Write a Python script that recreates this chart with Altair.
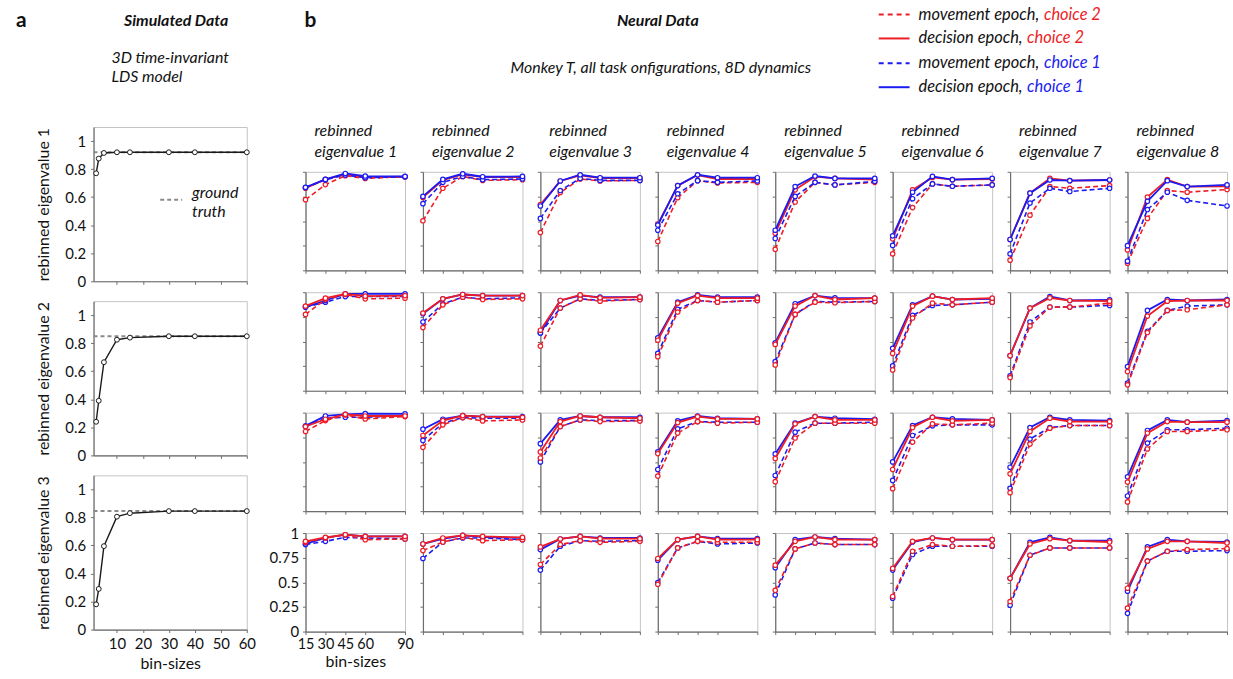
import altair as alt
import pandas as pd

FONT = "Lato"
RED = "#ee1c25"
BLUE = "#1b1bf2"
AXIS_DARK = "#6e6e6e"
FRAME = "#c4c4c4"

# ---------------- panel a : simulated data ----------------
BIN_A = [2, 3, 5, 10, 15, 30, 40, 60]
SIM_EIG_1 = [0.77, 0.875, 0.915, 0.92, 0.92, 0.92, 0.92, 0.92]
SIM_EIG_2 = [0.24, 0.39, 0.665, 0.825, 0.84, 0.85, 0.85, 0.85]
SIM_EIG_3 = [0.18, 0.29, 0.595, 0.805, 0.83, 0.845, 0.845, 0.845]
GROUND_TRUTH = [0.92, 0.85, 0.845]
SIM_TICKS_X = [10, 20, 30, 40, 50, 60]
SIM_TICKS_Y = [0, 0.2, 0.4, 0.6, 0.8, 1]

# ---------------- panel b : neural data (rows x eigenvalue columns x bins) ----------------
BIN_B = [15, 30, 45, 60, 90]
NEU_TICKS_Y = [0, 0.25, 0.5, 0.75, 1]

MOVE_C2 = [  # movement epoch, choice 2 (red dashed)
    [[0.717, 0.87, 0.96, 0.933, 0.95], [0.503, 0.833, 0.953, 0.913, 0.92], [0.383, 0.79, 0.927, 0.907, 0.913], [0.293, 0.737, 0.91, 0.887, 0.893],
     [0.213, 0.693, 0.893, 0.867, 0.893], [0.167, 0.637, 0.877, 0.853, 0.867], [0.103, 0.56, 0.85, 0.833, 0.86], [0.073, 0.527, 0.81, 0.793, 0.82]],
    [[0.775, 0.926, 0.977, 0.933, 0.94], [0.641, 0.872, 0.95, 0.926, 0.933], [0.453, 0.839, 0.933, 0.909, 0.926], [0.346, 0.799, 0.916, 0.899, 0.916],
     [0.262, 0.775, 0.899, 0.893, 0.906], [0.211, 0.738, 0.889, 0.872, 0.899], [0.134, 0.658, 0.849, 0.849, 0.889], [0.06, 0.591, 0.815, 0.822, 0.872]],
    [[0.809, 0.919, 0.977, 0.936, 0.96], [0.648, 0.876, 0.95, 0.916, 0.926], [0.54, 0.859, 0.926, 0.909, 0.916], [0.356, 0.792, 0.909, 0.893, 0.903],
     [0.299, 0.742, 0.893, 0.893, 0.893], [0.228, 0.701, 0.886, 0.876, 0.893], [0.188, 0.681, 0.842, 0.869, 0.869], [0.094, 0.631, 0.809, 0.809, 0.826]],
    [[0.906, 0.95, 0.983, 0.933, 0.94], [0.822, 0.909, 0.956, 0.923, 0.933], [0.681, 0.883, 0.923, 0.906, 0.916], [0.48, 0.849, 0.916, 0.906, 0.906],
     [0.419, 0.839, 0.899, 0.883, 0.883], [0.356, 0.815, 0.883, 0.866, 0.872], [0.305, 0.775, 0.849, 0.849, 0.849], [0.238, 0.715, 0.815, 0.832, 0.842]],
]
DEC_C2 = [  # decision epoch, choice 2 (red solid)
    [[0.833, 0.923, 0.973, 0.947, 0.95], [0.74, 0.915, 0.975, 0.945, 0.945], [0.667, 0.907, 0.963, 0.937, 0.937], [0.467, 0.86, 0.967, 0.927, 0.927],
     [0.377, 0.817, 0.95, 0.933, 0.92], [0.32, 0.817, 0.943, 0.92, 0.927], [0.313, 0.783, 0.933, 0.91, 0.917], [0.207, 0.743, 0.92, 0.85, 0.853]],
    [[0.859, 0.94, 0.983, 0.96, 0.966], [0.789, 0.933, 0.977, 0.966, 0.966], [0.614, 0.916, 0.973, 0.943, 0.95], [0.513, 0.889, 0.966, 0.94, 0.94],
     [0.47, 0.859, 0.966, 0.926, 0.94], [0.379, 0.859, 0.96, 0.926, 0.94], [0.356, 0.839, 0.943, 0.916, 0.909], [0.195, 0.758, 0.909, 0.916, 0.916]],
    [[0.859, 0.933, 0.983, 0.966, 0.966], [0.768, 0.919, 0.97, 0.96, 0.953], [0.601, 0.909, 0.966, 0.953, 0.943], [0.584, 0.899, 0.96, 0.936, 0.936],
     [0.534, 0.886, 0.96, 0.926, 0.926], [0.423, 0.849, 0.953, 0.916, 0.926], [0.379, 0.809, 0.943, 0.909, 0.909], [0.295, 0.792, 0.909, 0.903, 0.903]],
    [[0.916, 0.956, 0.983, 0.966, 0.966], [0.889, 0.95, 0.977, 0.966, 0.956], [0.859, 0.94, 0.966, 0.943, 0.943], [0.742, 0.933, 0.966, 0.933, 0.933],
     [0.674, 0.916, 0.96, 0.933, 0.933], [0.641, 0.916, 0.95, 0.933, 0.933], [0.54, 0.889, 0.943, 0.923, 0.909], [0.44, 0.839, 0.916, 0.916, 0.899]],
]
MOVE_C1 = [  # movement epoch, choice 1 (blue dashed)
    [[0.84, 0.92, 0.967, 0.94, 0.95], [0.677, 0.893, 0.953, 0.92, 0.927], [0.527, 0.81, 0.933, 0.913, 0.913], [0.407, 0.777, 0.91, 0.893, 0.907],
     [0.323, 0.75, 0.893, 0.867, 0.903], [0.253, 0.727, 0.877, 0.853, 0.867], [0.167, 0.683, 0.833, 0.8, 0.833], [0.093, 0.617, 0.793, 0.71, 0.653]],
    [[0.849, 0.899, 0.956, 0.956, 0.956], [0.698, 0.883, 0.95, 0.933, 0.943], [0.587, 0.839, 0.933, 0.916, 0.926], [0.379, 0.826, 0.916, 0.899, 0.916],
     [0.295, 0.775, 0.906, 0.899, 0.906], [0.252, 0.765, 0.866, 0.872, 0.899], [0.151, 0.698, 0.849, 0.849, 0.866], [0.077, 0.604, 0.815, 0.859, 0.872]],
    [[0.859, 0.943, 0.953, 0.953, 0.97], [0.718, 0.893, 0.95, 0.943, 0.943], [0.5, 0.859, 0.926, 0.919, 0.919], [0.423, 0.836, 0.909, 0.903, 0.903],
     [0.362, 0.802, 0.893, 0.893, 0.903], [0.312, 0.768, 0.866, 0.876, 0.876], [0.232, 0.732, 0.849, 0.869, 0.869], [0.154, 0.691, 0.826, 0.826, 0.842]],
    [[0.883, 0.916, 0.956, 0.95, 0.94], [0.742, 0.909, 0.95, 0.95, 0.933], [0.624, 0.866, 0.923, 0.916, 0.923], [0.497, 0.849, 0.916, 0.889, 0.899],
     [0.372, 0.839, 0.899, 0.883, 0.883], [0.339, 0.782, 0.866, 0.866, 0.866], [0.268, 0.775, 0.849, 0.849, 0.849], [0.185, 0.715, 0.815, 0.815, 0.822]],
]
DEC_C1 = [  # decision epoch, choice 1 (blue solid)
    [[0.843, 0.923, 0.983, 0.957, 0.953], [0.75, 0.923, 0.98, 0.95, 0.953], [0.653, 0.907, 0.97, 0.94, 0.94], [0.46, 0.86, 0.97, 0.94, 0.94],
     [0.407, 0.85, 0.957, 0.933, 0.933], [0.35, 0.793, 0.953, 0.92, 0.933], [0.313, 0.783, 0.917, 0.91, 0.917], [0.25, 0.7, 0.91, 0.85, 0.867]],
    [[0.849, 0.916, 0.983, 0.983, 0.983], [0.782, 0.933, 0.977, 0.966, 0.966], [0.587, 0.916, 0.966, 0.95, 0.95], [0.537, 0.899, 0.973, 0.95, 0.95],
     [0.487, 0.883, 0.966, 0.943, 0.94], [0.43, 0.872, 0.96, 0.926, 0.933], [0.356, 0.839, 0.956, 0.916, 0.923], [0.245, 0.815, 0.926, 0.916, 0.926]],
    [[0.866, 0.966, 0.983, 0.99, 0.987], [0.832, 0.933, 0.97, 0.96, 0.96], [0.685, 0.926, 0.966, 0.953, 0.953], [0.601, 0.916, 0.966, 0.943, 0.936],
     [0.581, 0.893, 0.96, 0.943, 0.933], [0.5, 0.869, 0.953, 0.936, 0.926], [0.446, 0.849, 0.953, 0.926, 0.919], [0.349, 0.819, 0.926, 0.903, 0.919]],
    [[0.889, 0.95, 0.983, 0.966, 0.966], [0.889, 0.94, 0.977, 0.96, 0.95], [0.832, 0.94, 0.966, 0.95, 0.95], [0.725, 0.933, 0.966, 0.943, 0.943],
     [0.648, 0.933, 0.96, 0.943, 0.933], [0.624, 0.909, 0.95, 0.933, 0.933], [0.54, 0.906, 0.956, 0.923, 0.923], [0.41, 0.859, 0.933, 0.916, 0.909]],
]

NO_STROKE = alt.ViewBackground(stroke="transparent")
ONE = pd.DataFrame({"d": [0]})
TXT = 16
PLAIN = "'' + datum.value"


def note(text, x, y, size=TXT, weight="normal", style="italic", color="#111", align="left", baseline="alphabetic"):
    return alt.Chart(ONE).mark_text(
        text=text, font=FONT, fontSize=size, fontWeight=weight, fontStyle=style,
        color=color, align=align, baseline=baseline,
    ).encode(x=alt.value(x), y=alt.value(y))


def seg(x1, x2, y, color, dash=None, width=2):
    kw = dict(color=color, strokeWidth=width)
    if dash:
        kw["strokeDash"] = dash
    return alt.Chart(ONE).mark_rule(**kw).encode(x=alt.value(x1), x2=alt.value(x2), y=alt.value(y))


# ---------------- panel a charts ----------------
def sim_chart(i, vals, truth, show_x):
    df = pd.DataFrame({"bin": BIN_A, "val": vals})
    tdf = pd.DataFrame({"bin": [1], "bin2": [60], "val": [truth]})
    xenc = alt.X("bin:Q", scale=alt.Scale(domain=[1, 60], nice=False, zero=False),
                 axis=alt.Axis(values=SIM_TICKS_X, labels=show_x, title="bin-sizes" if show_x else None,
                               labelExpr=PLAIN, labelFlush=False, labelOverlap=False, tickSize=3,
                               labelPadding=4, titlePadding=4))
    yenc = alt.Y("val:Q", scale=alt.Scale(domain=[0, 1.1], nice=False),
                 axis=alt.Axis(values=SIM_TICKS_Y, labelExpr=PLAIN, title=f"rebinned eigenvalue {i}",
                               labelFlush=False, tickSize=3, labelPadding=5, titlePadding=13))
    truth_rule = alt.Chart(tdf).mark_rule(color="#8a8a8a", strokeDash=[4, 3], strokeWidth=2).encode(
        x=xenc, x2="bin2:Q", y=yenc)
    line = alt.Chart(df).mark_line(
        color="#1a1a1a", strokeWidth=1.4,
        point=alt.OverlayMarkDef(filled=True, fill="white", stroke="#1a1a1a", strokeWidth=1, size=24),
    ).encode(x=xenc, y=yenc)
    layers = [truth_rule, line]
    if i == 1:
        layers += [seg(67, 89, 73, "#8a8a8a", [4, 3], 2),
                   note("ground", 99, 71),
                   note("truth", 99, 90)]
    return alt.layer(*layers).properties(width=154, height=155)


panel_a = alt.vconcat(
    sim_chart(1, SIM_EIG_1, GROUND_TRUTH[0], False),
    sim_chart(2, SIM_EIG_2, GROUND_TRUTH[1], False),
    sim_chart(3, SIM_EIG_3, GROUND_TRUTH[2], True),
    spacing=20, bounds="flush",
).resolve_scale(x="independent", y="independent")

# ---------------- panel b charts ----------------
SERIES = {
    "md2": (MOVE_C2, RED, [5, 3]),
    "dd2": (DEC_C2, RED, None),
    "md1": (MOVE_C1, BLUE, [5, 3]),
    "dd1": (DEC_C1, BLUE, None),
}


def col_title(c):
    return alt.layer(
        note("rebinned", 9, 4, baseline="middle"),
        note(f"eigenvalue {c + 1}", 9, 25, baseline="middle"),
    ).properties(width=100, height=23, view=NO_STROKE)


def neu_chart(r, c):
    show = (r == 3 and c == 0)
    xenc = alt.X("bin:Q", scale=alt.Scale(domain=[15, 90], nice=False, zero=False),
                 axis=alt.Axis(values=BIN_B, labels=show, title="bin-sizes" if show else None,
                               labelExpr=PLAIN, labelFontSize=14.5, labelFlush=False, labelOverlap=False,
                               tickSize=3, labelPadding=3, titlePadding=3))
    yenc = alt.Y("val:Q", scale=alt.Scale(domain=[0, 1], nice=False),
                 axis=alt.Axis(values=NEU_TICKS_Y, labels=show, labelExpr=PLAIN, title=None,
                               labelFlush=False, labelOverlap=False, tickSize=3, labelPadding=4))
    order = ["md2", "dd2", "md1", "dd1"] if r == 0 else ["md1", "dd1", "md2", "dd2"]
    layers = []
    for key in order:
        data, color, dash = SERIES[key]
        df = pd.DataFrame({"bin": BIN_B, "val": data[r][c]})
        kw = dict(color=color, strokeWidth=1.6 if dash else 1.8)
        if dash:
            kw["strokeDash"] = dash
        layers.append(alt.Chart(df).mark_line(
            **kw, point=alt.OverlayMarkDef(filled=True, fill="white", stroke=color, strokeWidth=1.2, size=20)
        ).encode(x=xenc, y=yenc))
    return alt.layer(*layers).properties(width=100, height=99)


cells = [col_title(c) for c in range(8)] + [neu_chart(r, c) for r in range(4) for c in range(8)]
panel_b = alt.concat(*cells, columns=8, spacing={"row": 22, "column": 18}, bounds="flush",
                     align="each").resolve_scale(x="independent", y="independent")

spacer = alt.Chart(ONE).mark_point(opacity=0).encode(x=alt.value(0), y=alt.value(0)).properties(
    width=7, height=10, view=NO_STROKE)

body = alt.hconcat(spacer, panel_a, panel_b, spacing=11).resolve_scale(x="independent", y="independent")

# ---------------- header texts (x relative to left padding of 12px) ----------------
P = 12
header_layers = [
    note("a", 12 - P, 24, size=21, weight="bold", style="normal"),
    note("Simulated Data", 173 - P, 23, weight="bold", align="center"),
    note("3D  time-invariant", 108 - P, 61),
    note("LDS model", 108 - P, 80),
    note("b", 302 - P, 24, size=21, weight="bold", style="normal"),
    note("Neural Data", 657 - P, 23, weight="bold", align="center"),
    note("Monkey T, all task onfigurations, 8D dynamics", 660 - P, 71, size=16, align="center"),
]
legend_rows = [
    ("movement epoch, ", "choice 2", RED, [5, 4], 12, 124),
    ("decision epoch, ", "choice 2", RED, None, 36, 107),
    ("movement epoch, ", "choice 1", BLUE, [5, 4], 61, 124),
    ("decision epoch, ", "choice 1", BLUE, None, 85, 107),
]
for lab, ch_txt, col, dash, yy, w in legend_rows:
    header_layers.append(seg(879 - P, 910 - P, yy, col, dash, 2))
    header_layers.append(note(lab, 919 - P, yy, size=16.5, baseline="middle"))
    header_layers.append(note(ch_txt, 919 - P + w + 2, yy, size=16.5, color=col, baseline="middle"))

header = alt.layer(*header_layers).properties(width=1150, height=100, view=NO_STROKE)

chart = alt.vconcat(header, body, spacing=19).properties(
    padding={"left": P, "top": 0, "right": 0, "bottom": 0}
).configure(font=FONT).configure_view(stroke=FRAME, strokeWidth=1).configure_axis(
    labelFont=FONT, titleFont=FONT, labelFontSize=15, titleFontSize=16,
    labelColor="#111", titleColor="#111", titleFontWeight="normal",
    domainColor=AXIS_DARK, tickColor=AXIS_DARK, domainWidth=1.2, grid=False,
)

chart.save("out.html", embed_options={"renderer": "svg", "actions": False})
